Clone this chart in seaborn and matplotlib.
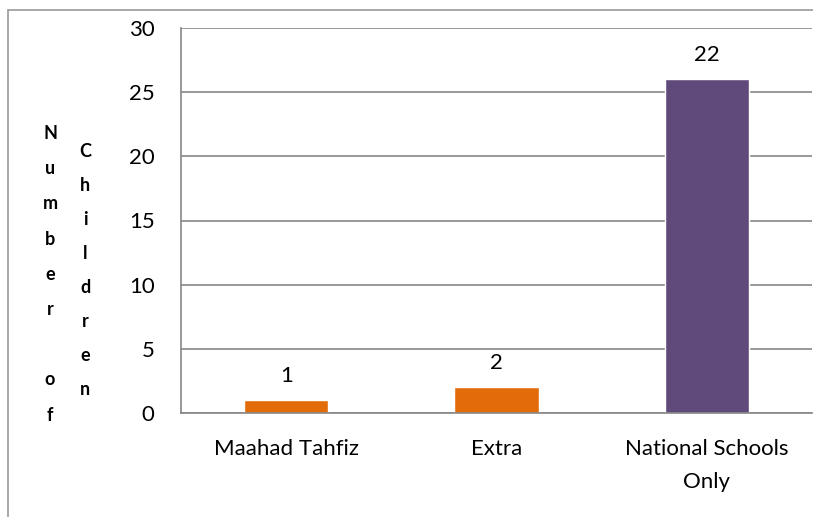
import numpy as np
import pandas as pd
import matplotlib
matplotlib.use("Agg")
import matplotlib.pyplot as plt
import seaborn as sns
from matplotlib.lines import Line2D

categories = ["Maahad Tahfiz", "Extra", "National Schools\nOnly"]
values = [1, 2, 26]
bar_labels = ["1", "2", "22"]
colors = ["#E36C0A", "#E36C0A", "#604A7B"]

sns.set_style("white")
plt.rcParams["font.family"] = ["Lato", "DejaVu Sans"]
plt.rcParams["text.color"] = "black"
plt.rcParams["xtick.labelcolor"] = "black"
plt.rcParams["ytick.labelcolor"] = "black"

df = pd.DataFrame({"cat": categories, "n": values})

fig = plt.figure(figsize=(8.13, 5.17), dpi=100)
ax = fig.add_axes([181 / 813, 1 - 413 / 517, 631 / 813, 385 / 517])

sns.barplot(data=df, x="cat", y="n", hue="cat", palette=colors,
            width=0.4, legend=False, saturation=1, ax=ax)

ax.set_ylim(0, 30)
ax.set_xlim(-0.5, 2.5)
ax.set_yticks(np.arange(0, 31, 5))
ax.yaxis.grid(True, color="#868686", linewidth=1.2)
ax.set_axisbelow(True)
for s in ["top", "right"]:
    ax.spines[s].set_visible(False)
for s in ["left", "bottom"]:
    ax.spines[s].set_color("#868686")
    ax.spines[s].set_linewidth(1.2)

# ticks: category labels centred, tick marks on the boundaries
ax.set_xticks(range(len(categories)))
ax.set_xticklabels(categories, fontsize=16, linespacing=1.8)
ax.tick_params(axis="x", length=0, pad=19)
ax.set_xticks([-0.5, 0.5, 1.5, 2.5], minor=True)
ax.tick_params(axis="x", which="minor", length=7, color="#868686", width=1.2, direction="out")
ax.tick_params(axis="y", length=7, color="#868686", width=1.2, labelsize=16, pad=12, direction="out")
ax.set_xlabel("")
ax.set_ylabel("")

for cont in ax.containers:
    idx = [int(round(b.get_x() + b.get_width() / 2)) for b in cont]
    ax.bar_label(cont, labels=[bar_labels[i] for i in idx], padding=10, fontsize=16)

# stacked y-axis title
fig.text(50 / 813, 1 - 125 / 517, "N\nu\nm\nb\ne\nr\n\no\nf", ha="center", va="top",
         fontsize=13, fontweight="bold", linespacing=2.3)
fig.text(85 / 813, 1 - 143 / 517, "C\nh\ni\nl\nd\nr\ne\nn", ha="center", va="top",
         fontsize=13, fontweight="bold", linespacing=2.21)

# chart frame
fig.add_artist(Line2D([8 / 813, 8 / 813], [0, 1 - 10 / 517], transform=fig.transFigure,
                      color="#9a9a9a", linewidth=1.2))
fig.add_artist(Line2D([8 / 813, 1], [1 - 10 / 517, 1 - 10 / 517], transform=fig.transFigure,
                      color="#9a9a9a", linewidth=1.2))

fig.savefig("out.png", dpi=100)
